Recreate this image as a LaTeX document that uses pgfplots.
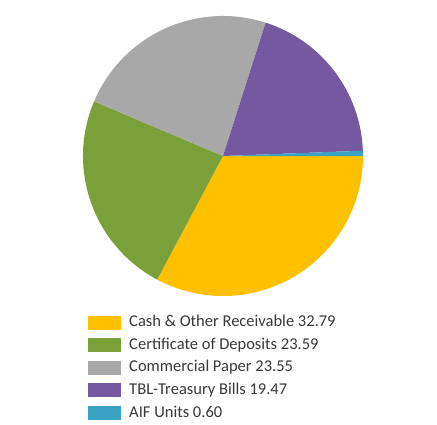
\documentclass[border=0pt]{standalone}
\usepackage{pgfplots}
\pgfplotsset{compat=1.18}
\usepackage{fontspec}
\setmainfont{Carlito}

\definecolor{cashc}{HTML}{FFC000}
\definecolor{cdc}{HTML}{7BA03A}
\definecolor{cpc}{HTML}{A8A8A8}
\definecolor{tblc}{HTML}{7459A0}
\definecolor{aifc}{HTML}{3AA3C3}
\definecolor{txtc}{HTML}{383838}

% Portfolio shares in percent, drawn clockwise from 3 o'clock
\def\shares{32.79/cashc,23.59/cdc,23.55/cpc,19.47/tblc,0.60/aifc}

\begin{document}
\begin{tikzpicture}[x=1pt,y=1pt]
\path[use as bounding box] (0,0) rectangle (437,424);
\begin{axis}[
  hide axis,
  x=140pt, y=140pt,
  xmin=-1, xmax=1, ymin=-1, ymax=1,
  at={(223pt,268pt)}, anchor=origin,
  clip=false,
  legend cell align=left,
  legend image code/.code={\fill[#1,draw=none] (0pt,-7pt) rectangle (33pt,7pt);},
  legend style={
    at={(axis cs:-0.964,-1.135)}, anchor=north west,
    draw=none, fill=none, inner sep=0pt,
    font=\fontsize{16.5}{19}\selectfont, text=txtc,
    row sep=7.6pt,
    nodes={inner sep=0pt, text height=11.5pt, text depth=3.5pt},
    /tikz/every odd column/.append style={column sep=8pt},
  },
]
  \xdef\startang{0}
  \foreach \v/\c in \shares {
    \pgfmathsetmacro{\endang}{\startang-3.6*\v}
    \pgfmathsetmacro{\sx}{cos(\startang)}
    \pgfmathsetmacro{\sy}{sin(\startang)}
    \edef\temp{\noexpand\fill[\c] (axis cs:0,0) -- (axis cs:\sx,\sy)
      arc[start angle=\startang, end angle=\endang, radius=140pt] -- cycle;}
    \temp
    \xdef\startang{\endang}
  }
  \addlegendimage{fill=cashc}
  \addlegendentry{Cash \& Other Receivable 32.79}
  \addlegendimage{fill=cdc}
  \addlegendentry{Certificate of Deposits 23.59}
  \addlegendimage{fill=cpc}
  \addlegendentry{Commercial Paper 23.55}
  \addlegendimage{fill=tblc}
  \addlegendentry{TBL-Treasury Bills 19.47}
  \addlegendimage{fill=aifc}
  \addlegendentry{AIF Units 0.60}
\end{axis}
\end{tikzpicture}
\end{document}
